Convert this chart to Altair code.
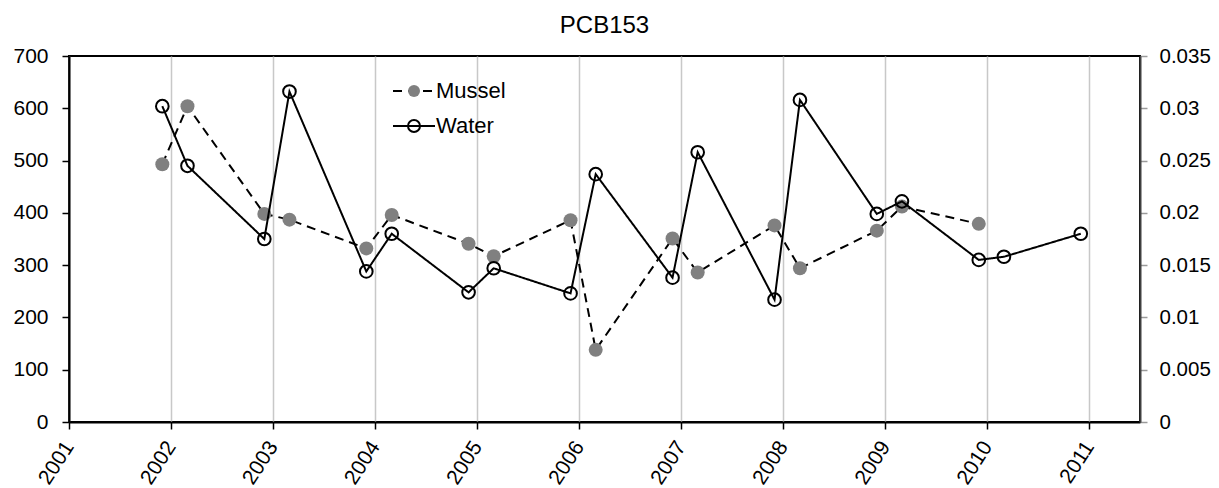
import altair as alt
import pandas as pd

# ---------------- data ----------------
title_text = "PCB153"
series_names = ["Mussel", "Water"]

mussel_dates = ["2001-12-01", "2002-03-01", "2002-12-01", "2003-03-01", "2003-12-01",
                "2004-03-01", "2004-12-01", "2005-03-01", "2005-12-01", "2006-03-01",
                "2006-12-01", "2007-03-01", "2007-12-01", "2008-03-01", "2008-12-01",
                "2009-03-01", "2009-12-01"]
mussel_values = [493, 604, 398, 387, 332, 396, 341, 317, 386, 138,
                 351, 286, 376, 294, 366, 412, 379]

water_dates = ["2001-12-01", "2002-03-01", "2002-12-01", "2003-03-01", "2003-12-01",
               "2004-03-01", "2004-12-01", "2005-03-01", "2005-12-01", "2006-03-01",
               "2006-12-01", "2007-03-01", "2007-12-01", "2008-03-01", "2008-12-01",
               "2009-03-01", "2009-12-01", "2010-03-01", "2010-12-01"]
water_values = [0.0302, 0.0245, 0.0175, 0.0316, 0.0144, 0.0180, 0.0124, 0.0147, 0.0123,
                0.0237, 0.0138, 0.0258, 0.0117, 0.0308, 0.0199, 0.0211, 0.0155, 0.0158,
                0.0180]

year_ticks = [2001, 2002, 2003, 2004, 2005, 2006, 2007, 2008, 2009, 2010, 2011]
left_ticks = [0, 100, 200, 300, 400, 500, 600, 700]
right_ticks = [0, 0.005, 0.01, 0.015, 0.02, 0.025, 0.03, 0.035]

mussel_df = pd.DataFrame({"date": mussel_dates, "value": mussel_values,
                          "series": [series_names[0]] * len(mussel_values)})
water_df = pd.DataFrame({"date": water_dates, "value": water_values,
                         "series": [series_names[1]] * len(water_values)})

# ---------------- styling ----------------
FONT = "Liberation Sans"
TICK_FS = 21
LEG_FS = 22
LEG_X = 334
LEG_Y = 24
LEG_ROWPAD = 13
LEG_LABEL_OFFSET = 11

x_enc = alt.X(
    "date:T",
    scale=alt.Scale(domain=[alt.DateTime(year=2001, month=1, date=1),
                            alt.DateTime(year=2011, month=7, date=1)]),
    axis=alt.Axis(
        values=[alt.DateTime(year=y, month=1, date=1) for y in year_ticks],
        format="%Y", labelAngle=303, labelAlign="right", labelBaseline="middle",
        labelFlush=False, labelOverlap=False,
        grid=True, gridColor="#c8c8c8", gridWidth=1.5,
        domainColor="black", domainWidth=2, tickColor="black", tickWidth=1.5,
        tickSize=7, labelPadding=14, labelFontSize=TICK_FS, labelFont=FONT,
        labelColor="black", title=None),
)

fill_scale = alt.Scale(domain=series_names, range=["#808080", "transparent"])
stroke_scale = alt.Scale(domain=series_names, range=["transparent", "black"])
dash_scale = alt.Scale(range=[[9, 6], [1, 0]])

point_legend = alt.Legend(
    orient="none", legendX=LEG_X, legendY=LEG_Y, title=None, padding=0,
    symbolType="circle", symbolSize=144, symbolStrokeWidth=2, symbolOpacity=1,
    labelFontSize=LEG_FS, labelFont=FONT, labelColor="transparent",
    labelOffset=LEG_LABEL_OFFSET, rowPadding=LEG_ROWPAD)

line_legend = alt.Legend(
    orient="none", legendX=LEG_X, legendY=LEG_Y, title=None, padding=0,
    symbolType="M-3.5,0H3.5", symbolSize=144, symbolStrokeWidth=2,
    symbolStrokeColor="black", symbolFillColor="transparent",
    labelFontSize=LEG_FS, labelFont=FONT, labelColor="black",
    labelOffset=LEG_LABEL_OFFSET, rowPadding=LEG_ROWPAD)

left_axis = alt.Axis(orient="left", values=left_ticks, grid=False, tickSize=7,
                     labelPadding=14, tickColor="black", tickWidth=1.5,
                     domainColor="black", domainWidth=2, labelFontSize=TICK_FS,
                     labelFont=FONT, labelColor="black", title=None)
right_axis = alt.Axis(orient="right", values=right_ticks, grid=False, tickSize=7,
                      labelPadding=12, tickColor="#9a9a9a", tickWidth=1.5,
                      domainColor="#404040", domainWidth=2, format="~g",
                      labelFontSize=20.5, labelFont=FONT, labelColor="black",
                      title=None)

y_left = alt.Y("value:Q", scale=alt.Scale(domain=[0, 700], nice=False), axis=left_axis)
y_right = alt.Y("value:Q", scale=alt.Scale(domain=[0, 0.035], nice=False), axis=right_axis)

dash_enc = alt.StrokeDash("series:N", scale=dash_scale, legend=line_legend)
fill_enc = alt.Fill("series:N", scale=fill_scale, legend=point_legend)
stroke_enc = alt.Stroke("series:N", scale=stroke_scale, legend=point_legend)

mussel_line = alt.Chart(mussel_df).mark_line(color="black", strokeWidth=2).encode(
    x=x_enc, y=y_left, strokeDash=dash_enc)
mussel_pts = alt.Chart(mussel_df).mark_point(
    shape="circle", filled=True, size=196, opacity=1, strokeWidth=2).encode(
    x=x_enc, y=y_left, fill=fill_enc, stroke=stroke_enc)

water_line = alt.Chart(water_df).mark_line(color="black", strokeWidth=2).encode(
    x=x_enc, y=y_right, strokeDash=dash_enc)
water_pts = alt.Chart(water_df).mark_point(
    shape="circle", filled=True, size=160, opacity=1, strokeWidth=2).encode(
    x=x_enc, y=y_right, fill=fill_enc, stroke=stroke_enc)

mussel_layer = alt.layer(mussel_line, mussel_pts)
water_layer = alt.layer(water_line, water_pts)

chart = alt.layer(mussel_layer, water_layer).resolve_scale(y="independent").properties(
    width=1071, height=366,
    title=alt.TitleParams(title_text, anchor="middle", fontSize=24, font=FONT,
                          fontWeight="normal", color="black", offset=7),
    autosize=alt.AutoSizeParams(type="none"),
    padding={"left": 61, "top": 48, "right": 71, "bottom": 66},
).configure_view(stroke="black", strokeWidth=2)

chart.save("out.html", embed_options={"renderer": "svg", "actions": False})
